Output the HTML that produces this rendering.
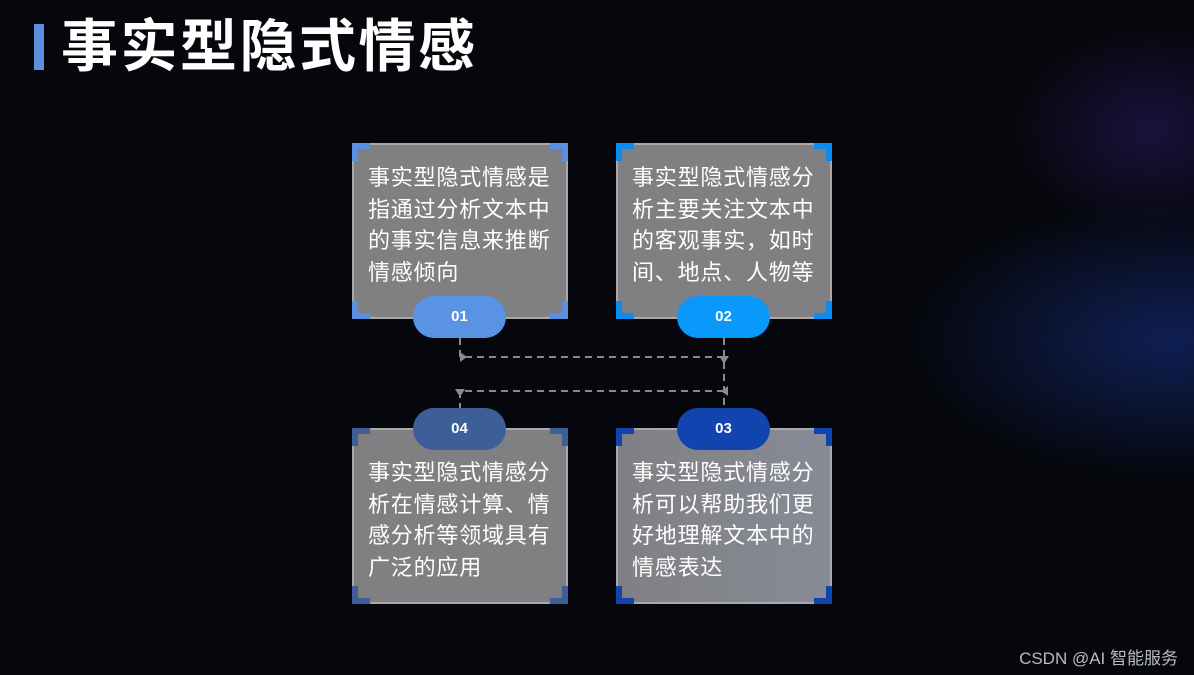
<!DOCTYPE html>
<html><head><meta charset="utf-8"><style>
*{margin:0;padding:0;box-sizing:border-box}
body{width:1194px;height:675px;overflow:hidden;position:relative;
background:
radial-gradient(ellipse 200px 150px at 1150px 130px, rgba(50,30,120,0.45), transparent 70%),
radial-gradient(ellipse 380px 200px at 1170px 340px, rgba(25,60,170,0.45), transparent 70%),
#06070c;
font-family:"Liberation Sans","Noto Sans CJK SC",sans-serif;}
.bar{position:absolute;left:34px;top:24px;width:10px;height:46px;background:#5b8fe0}
.title{position:absolute;left:61px;top:10px;font-size:57px;font-weight:bold;color:#fff;line-height:74px;letter-spacing:2.5px;white-space:nowrap}
.box{position:absolute;width:216px;height:176px;background:#808083;border:2px solid #a9a9ab}
.c{position:absolute;width:18px;height:18px;border-color:var(--a);border-style:solid;border-width:0}
.tl{left:-2px;top:-2px;border-left-width:6px;border-top-width:6px}
.tr{right:-2px;top:-2px;border-right-width:6px;border-top-width:6px}
.bl{left:-2px;bottom:-2px;border-left-width:6px;border-bottom-width:6px}
.br{right:-2px;bottom:-2px;border-right-width:6px;border-bottom-width:6px}
.txt{position:absolute;left:14px;width:200px;font-size:22px;letter-spacing:0.8px;line-height:31.5px;color:#fff;white-space:nowrap}
.pill{position:absolute;width:93px;height:42px;border-radius:21px;color:#fff;font-weight:bold;font-size:15px;text-align:center;line-height:42px}
.wm{position:absolute;right:16px;top:644px;color:#b8bac4;font-size:17px}
</style></head><body>
<div class="bar"></div><div class="title">事实型隐式情感</div>

<div class="box" style="left:352px;top:143px;--a:#5b8fe0"><i class="c tl"></i><i class="c tr"></i><i class="c bl"></i><i class="c br"></i>
<div class="txt" style="top:17px">事实型隐式情感是<br>指通过分析文本中<br>的事实信息来推断<br>情感倾向</div></div>
<div class="box" style="left:616px;top:143px;--a:#0a8cf0"><i class="c tl"></i><i class="c tr"></i><i class="c bl"></i><i class="c br"></i>
<div class="txt" style="top:17px">事实型隐式情感分<br>析主要关注文本中<br>的客观事实，如时<br>间、地点、人物等</div></div>
<div class="box" style="left:352px;top:428px;--a:#3b5f96"><i class="c tl"></i><i class="c tr"></i><i class="c bl"></i><i class="c br"></i>
<div class="txt" style="top:27px">事实型隐式情感分<br>析在情感计算、情<br>感分析等领域具有<br>广泛的应用</div></div>
<div class="box" style="left:616px;top:428px;--a:#1244b0;background:linear-gradient(90deg,#808083,#878b96)"><i class="c tl"></i><i class="c tr"></i><i class="c bl"></i><i class="c br"></i>
<div class="txt" style="top:27px">事实型隐式情感分<br>析可以帮助我们更<br>好地理解文本中的<br>情感表达</div></div>

<svg style="position:absolute;left:0;top:0" width="1194" height="675">
<g stroke="#8a8a8e" stroke-width="2" stroke-dasharray="7,5" fill="none">
<path d="M460 338 V357 H724"/>
<path d="M724 338 V408"/>
<path d="M724 391 H460 V408"/>
</g>
<g fill="#8a8a8e">
<path d="M460 352 L467 357 L460 362Z"/>
<path d="M719 356 L729 356 L724 364Z"/>
<path d="M728 386 L721 391 L728 396Z"/>
<path d="M455 389 L465 389 L460 397Z"/>
</g>
</svg>

<div class="pill" style="left:413px;top:296px;background:#5b93e4">01</div>
<div class="pill" style="left:677px;top:296px;background:#0a99fb">02</div>
<div class="pill" style="left:413px;top:408px;background:#3b5f96">04</div>
<div class="pill" style="left:677px;top:408px;background:#1244b0">03</div>
<div class="wm">CSDN @AI 智能服务</div>
</body></html>
